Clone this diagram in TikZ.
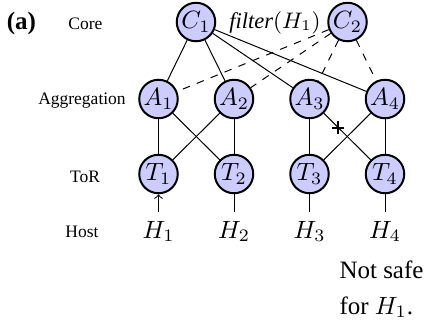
\documentclass[tikz,border=0pt]{standalone}
\usepackage[no-math]{fontspec}
\setmainfont{Liberation Serif}
\usetikzlibrary{calc}
\tikzset{
  sw/.style={circle, draw, line width=0.8pt, fill=blue!20, minimum size=15.4pt, inner sep=0pt},
  lbl/.style={font=\scriptsize, anchor=base, inner sep=0pt},
  host/.style={anchor=base},
  link/.style={line width=0.4pt},
  backup/.style={line width=0.4pt, dashed},
  failmark/.style={minimum size=5pt, inner sep=0pt,
    path picture={\draw[line width=0.8pt]
      (path picture bounding box.north) -- (path picture bounding box.south)
      (path picture bounding box.west) -- (path picture bounding box.east);}},
}
\begin{document}
\begin{tikzpicture}[x=0.4pt,y=-0.4pt]
\useasboundingbox (0,0) rectangle (432,322);
% switches
\node[sw] (C1) at (196,22) {$C_1$};
\node[sw] (C2) at (347.5,22) {$C_2$};
\node[sw] (A1) at (158.5,99) {$A_1$};
\node[sw] (A2) at (234,99) {$A_2$};
\node[sw] (A3) at (309.5,99) {$A_3$};
\node[sw] (A4) at (385,99) {$A_4$};
\node[sw] (T1) at (158.5,174) {$T_1$};
\node[sw] (T2) at (234,174) {$T_2$};
\node[sw] (T3) at (309.5,174) {$T_3$};
\node[sw] (T4) at (385,174) {$T_4$};
% hosts
\node[host] (H1) at (158.5,238) {$H_1$};
\node[host] (H2) at (234,238) {$H_2$};
\node[host] (H3) at (309.5,238) {$H_3$};
\node[host] (H4) at (385,238) {$H_4$};
% labels
\node[font=\bfseries, anchor=base, inner sep=0pt] (lab) at (21.5,29) {(a)};
\node[lbl] (core) at (85.5,29) {Core};
\node[lbl] (agg) at (82,104) {Aggregation};
\node[lbl] (tor) at (85,182) {ToR};
\node[lbl] (hostl) at (82,237) {Host};
\node[font=\small, anchor=base, inner sep=0pt] (filt) at (275,28) {\textit{filter}$(H_1)$};
\node[anchor=base west, inner sep=0pt] (ns1) at (339,278) {Not safe};
\node[anchor=base west, inner sep=0pt] (ns2) at (339,314) {for $H_1$.};
% core links
\draw[link] (C1) -- (A1);
\draw[link] (C1) -- (A2);
\draw[link] (C1) -- (A3);
\draw[link] (C1) -- (A4);
\draw[backup] (C2) -- (A1);
\draw[backup] (C2) -- (A2);
\draw[backup] (C2) -- (A3);
\draw[backup] (C2) -- (A4);
% aggregation links
\draw[link] (A1) -- (T1);
\draw[link] (A1) -- (T2);
\draw[link] (A2) -- (T1);
\draw[link] (A2) -- (T2);
\draw[link] (A3) -- (T3);
\draw[link] (A3) -- (T4);
\draw[link] (A4) -- (T3);
\draw[link] (A4) -- (T4);
% host links
\draw[link,->] (H1) -- (T1);
\draw[link] (T2) -- (H2);
\draw[link] (T3) -- (H3);
\draw[link] (T4) -- (H4);
% failure mark
\node[failmark] (fail) at ($(A3)!0.38!(T4)$) {};
\end{tikzpicture}
\end{document}
